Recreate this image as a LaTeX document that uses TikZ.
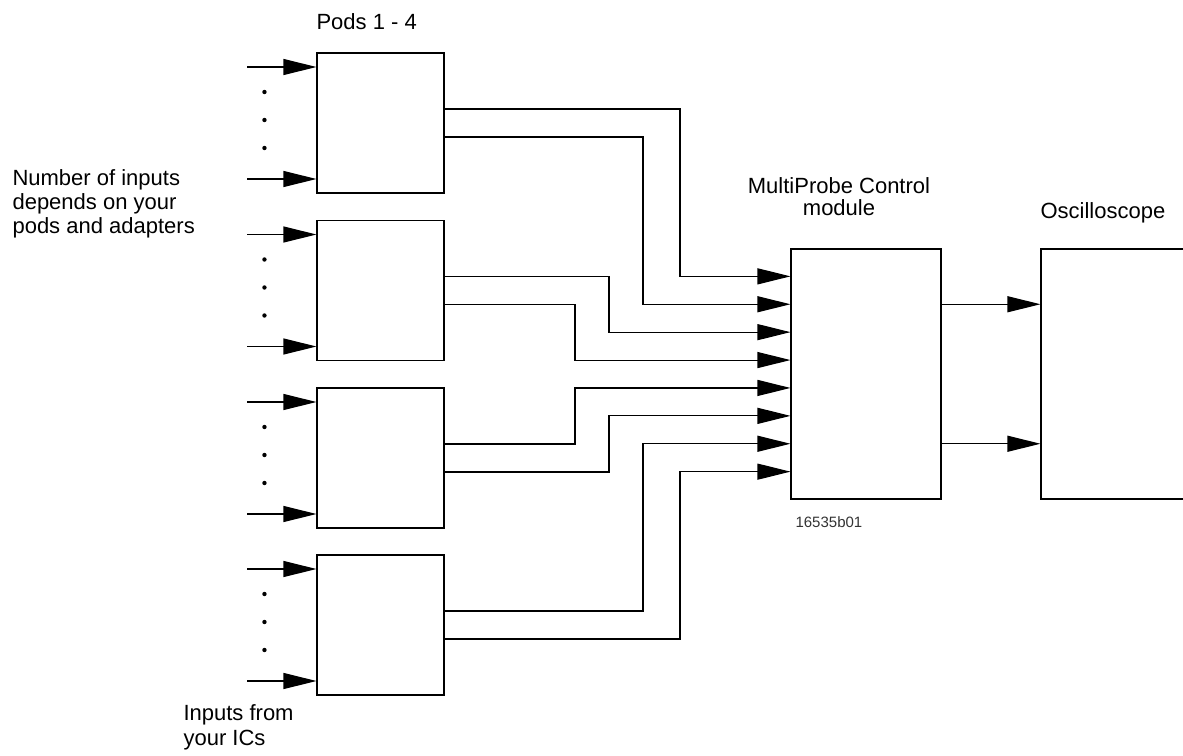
\documentclass[tikz,border=0pt]{standalone}
\usepackage{fontspec}
\setmainfont{Liberation Sans}
\usetikzlibrary{calc,arrows.meta}

\begin{document}
\begin{tikzpicture}[x=1pt,y=-1pt,line width=1.1pt,
  >={Triangle[length=33pt,width=16pt]},
  box/.style={draw, minimum width=127pt, minimum height=140pt, inner sep=0pt},
  lbl/.style={font=\fontsize{22}{24}\selectfont, align=left, inner sep=0pt}]
\useasboundingbox (0,0) rectangle (1183,755);
\clip (0,0) rectangle (1183,755);

% pods and their inputs
\foreach \i/\y in {1/123,2/290.5,3/458,4/625}{
  \node[box] (pod\i) at (380.5,\y) {};
  \coordinate (top\i) at ($(pod\i.west)+(-69,-56)$);
  \coordinate (bot\i) at ($(pod\i.west)+(-69,56)$);
  \draw[->] (top\i) -- (top\i -| pod\i.west);
  \draw[->] (bot\i) -- (bot\i -| pod\i.west);
  \foreach \d in {-31,-3,25}
    \fill ($(pod\i.west)+(-52,\d)$) circle (2.2pt);
}

% control module and scope
\node[draw, minimum width=150pt, minimum height=250pt, inner sep=0pt] (mpc) at (866,374) {};
\node[draw, minimum width=160pt, minimum height=250pt, inner sep=0pt] (osc) at (1121,374) {};

% module inputs
\foreach \n in {1,...,8}
  \coordinate (in\n) at ($(mpc.west)+(0,{(\n-4.5)*27.9})$);

% pod outputs routed to module
\foreach \p/\o/\x/\n in {1/-14/680/1, 1/14/643/2, 2/-14/609/3, 2/14/575/4,
                         3/-14/575/5, 3/14/609/6, 4/-14/643/7, 4/14/680/8}
  \draw[->] ($(pod\p.east)+(0,\o)$) -| (\x,0 |- in\n) -- (in\n);

% module to scope
\draw[->] (in2 -| mpc.east) -- (in2 -| osc.west);
\draw[->] (in7 -| mpc.east) -- (in7 -| osc.west);

% labels (base = last line)
\node[lbl, anchor=base west] (podlbl) at (316,29) {Pods 1 - 4};
\node[lbl, font=\fontsize{22}{21.5}\selectfont, align=center, anchor=base] (mpclbl) at (839,215) {MultiProbe Control\\module};
\node[lbl, anchor=base west] (osclbl) at (1040,218) {Oscilloscope};
\node[lbl, anchor=base west] (numlbl) at (12,233) {Number of inputs\\depends on your\\pods and adapters};
\node[lbl, font=\fontsize{22}{25}\selectfont, anchor=base west] (iclbl) at (183,745) {Inputs from\\your ICs};
\node[font=\fontsize{15}{18}\selectfont, anchor=base west, inner sep=0pt, text=black!80] (fig) at (795,527) {16535b01};
\end{tikzpicture}
\end{document}
